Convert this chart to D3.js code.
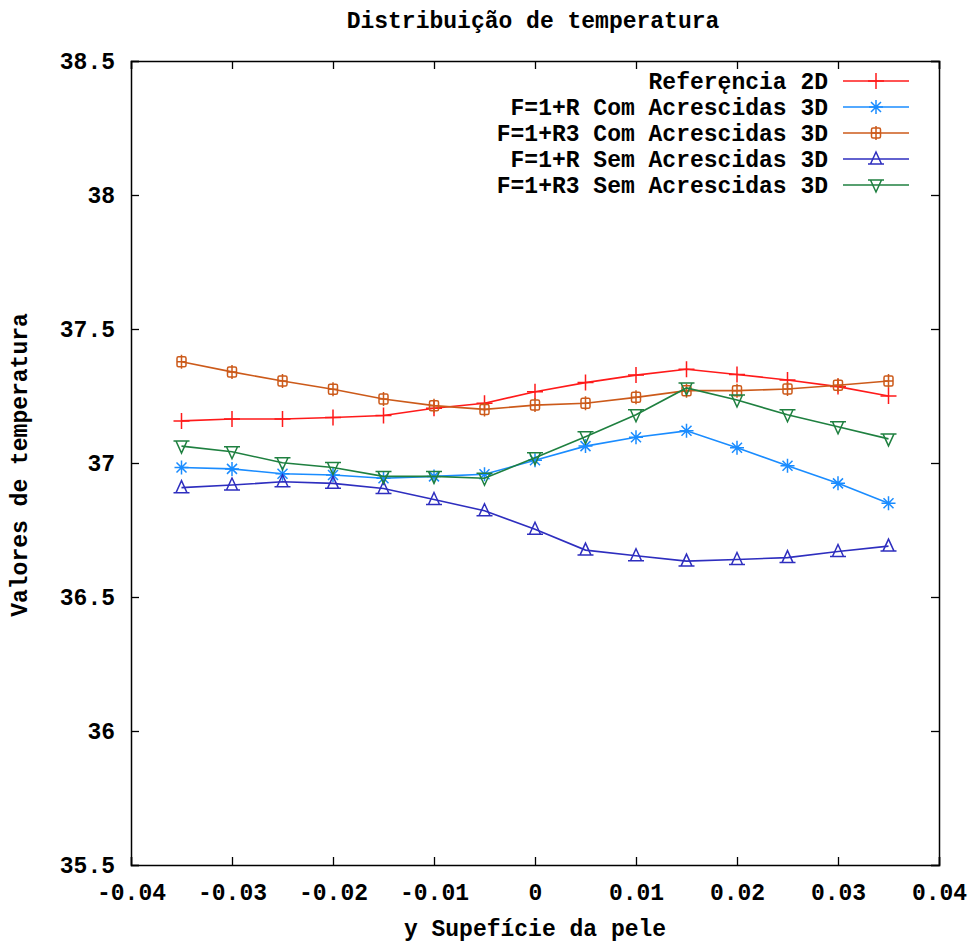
<!DOCTYPE html>
<html>
<head>
<meta charset="utf-8">
<script src="https://cdn.jsdelivr.net/npm/d3@7"></script>
<style>
  body { margin: 0; background: #fff; }
  text { font-family: "Liberation Mono", "DejaVu Sans Mono", monospace; font-weight: bold; font-size: 23px; fill: #000; }
</style>
</head>
<body>
<script>
// data
var xValues = [-0.035, -0.03, -0.025, -0.02, -0.015, -0.01, -0.005, 0, 0.005, 0.01, 0.015, 0.02, 0.025, 0.03, 0.035]

var ref2D  = [37.157, 37.164, 37.164, 37.170, 37.177, 37.204, 37.223, 37.266, 37.300, 37.328, 37.350, 37.330, 37.310, 37.285, 37.250]
var comR   = [36.983, 36.978, 36.960, 36.955, 36.943, 36.950, 36.958, 37.010, 37.063, 37.096, 37.120, 37.057, 36.990, 36.924, 36.850]
var comR3  = [37.378, 37.340, 37.306, 37.275, 37.239, 37.214, 37.200, 37.216, 37.223, 37.245, 37.270, 37.270, 37.276, 37.290, 37.306]
var semR   = [36.908, 36.918, 36.930, 36.924, 36.905, 36.864, 36.822, 36.753, 36.675, 36.654, 36.634, 36.640, 36.647, 36.670, 36.690]
var semR3  = [37.063, 37.042, 37.001, 36.983, 36.950, 36.950, 36.943, 37.020, 37.098, 37.180, 37.280, 37.235, 37.180, 37.135, 37.090]

var seriesNames = ["Referęncia 2D", "F=1+R Com Acrescidas 3D", "F=1+R3 Com Acrescidas 3D", "F=1+R Sem Acrescidas 3D", "F=1+R3 Sem Acrescidas 3D"]
var seriesValues = [ref2D, comR, comR3, semR, semR3]
var seriesColors = ["#ff1a1a", "#1a8cff", "#cc5a1a", "#2e2ebf", "#1f8040"]
var seriesMarkers = ["plus", "star", "box", "triUp", "triDown"]

var xTicks = [-0.04, -0.03, -0.02, -0.01, 0, 0.01, 0.02, 0.03, 0.04]
var xTickLabels = ["-0.04", "-0.03", "-0.02", "-0.01", "0", "0.01", "0.02", "0.03", "0.04"]
var yTicks = [35.5, 36, 36.5, 37, 37.5, 38, 38.5]
var yTickLabels = ["35.5", "36", "36.5", "37", "37.5", "38", "38.5"]

var W = 975, H = 944
var margin = {top: 61, right: 36, bottom: 79, left: 131}
var width = W - margin.left - margin.right
var height = H - margin.top - margin.bottom

var svg = d3.select("body").append("svg")
    .attr("width", W)
    .attr("height", H)

var g = svg.append("g")
    .attr("transform", "translate(" + margin.left + "," + margin.top + ")")

var x = d3.scaleLinear().domain([-0.04, 0.04]).range([0, width])
var y = d3.scaleLinear().domain([35.5, 38.5]).range([height, 0])

// marker shapes, drawn as outlines like gnuplot's points
function markerPath(type) {
    if (type == "plus") return "M-8,0H8M0,-8V8"
    if (type == "star") return "M-7,0H7M0,-7V7M-5,-5L5,5M-5,5L5,-5"
    if (type == "box") return "M-3,-5H3Q4.5,-5 4.5,-3.5V3.5Q4.5,5 3,5H-3Q-4.5,5 -4.5,3.5V-3.5Q-4.5,-5 -3,-5ZM0,-7V7M-4.5,0H4.5"
    if (type == "triUp") return "M0,-7L5.5,5H-5.5ZM-8,5H8"
    if (type == "triDown") return "M0,7L5.5,-5H-5.5ZM-8,-5H8"
}

// axes with inward ticks on all four sides
g.append("g")
    .attr("transform", "translate(0," + height + ")")
    .call(d3.axisBottom(x).tickValues(xTicks).tickSize(-8).tickPadding(19)
        .tickFormat(function(d, i) { return xTickLabels[i] }))
g.append("g")
    .call(d3.axisTop(x).tickValues(xTicks).tickSize(-8).tickFormat(""))
g.append("g")
    .call(d3.axisLeft(y).tickValues(yTicks).tickSize(-8).tickPadding(16)
        .tickFormat(function(d, i) { return yTickLabels[i] }))
g.append("g")
    .attr("transform", "translate(" + width + ",0)")
    .call(d3.axisRight(y).tickValues(yTicks).tickSize(-8).tickFormat(""))

g.selectAll(".domain").attr("stroke", "#000").attr("stroke-width", 1.5)
g.selectAll(".tick line").attr("stroke", "#000").attr("stroke-width", 1.3)
g.selectAll(".tick text")
    .style("font-family", "'Liberation Mono', monospace")
    .style("font-weight", "bold")
    .style("font-size", "23px")
    .attr("fill", "#000")

var line = d3.line()
    .x(function(d) { return x(d[0]) })
    .y(function(d) { return y(d[1]) })

seriesValues.forEach(function(vals, s) {
    var pts = xValues.map(function(xv, i) { return [xv, vals[i]] })
    g.append("path")
        .datum(pts)
        .attr("d", line)
        .attr("fill", "none")
        .attr("stroke", seriesColors[s])
        .attr("stroke-width", 1.6)
    g.selectAll(".m" + s)
        .data(pts)
        .enter()
        .append("path")
        .attr("class", "m" + s)
        .attr("d", markerPath(seriesMarkers[s]))
        .attr("transform", function(d) { return "translate(" + x(d[0]) + "," + y(d[1]) + ")" })
        .attr("fill", "none")
        .attr("stroke", seriesColors[s])
        .attr("stroke-width", 1.5)
})

// legend, top right
var legend = svg.append("g")
seriesNames.forEach(function(name, s) {
    var ly = 81 + s * 26
    legend.append("text")
        .attr("x", 828)
        .attr("y", ly)
        .attr("dy", "0.35em")
        .attr("text-anchor", "end")
        .text(name)
    legend.append("line")
        .attr("x1", 843).attr("x2", 909)
        .attr("y1", ly).attr("y2", ly)
        .attr("stroke", seriesColors[s])
        .attr("stroke-width", 1.6)
    legend.append("path")
        .attr("d", markerPath(seriesMarkers[s]))
        .attr("transform", "translate(876," + ly + ")")
        .attr("fill", "none")
        .attr("stroke", seriesColors[s])
        .attr("stroke-width", 1.5)
})

// titles
svg.append("text")
    .attr("x", 533)
    .attr("y", 28)
    .attr("text-anchor", "middle")
    .text("Distribuição de temperatura")

svg.append("text")
    .attr("x", 535)
    .attr("y", 936)
    .attr("text-anchor", "middle")
    .text("y Supefície da pele")

svg.append("text")
    .attr("transform", "translate(27,465) rotate(-90)")
    .attr("text-anchor", "middle")
    .text("Valores de temperatura")
</script>
</body>
</html>
